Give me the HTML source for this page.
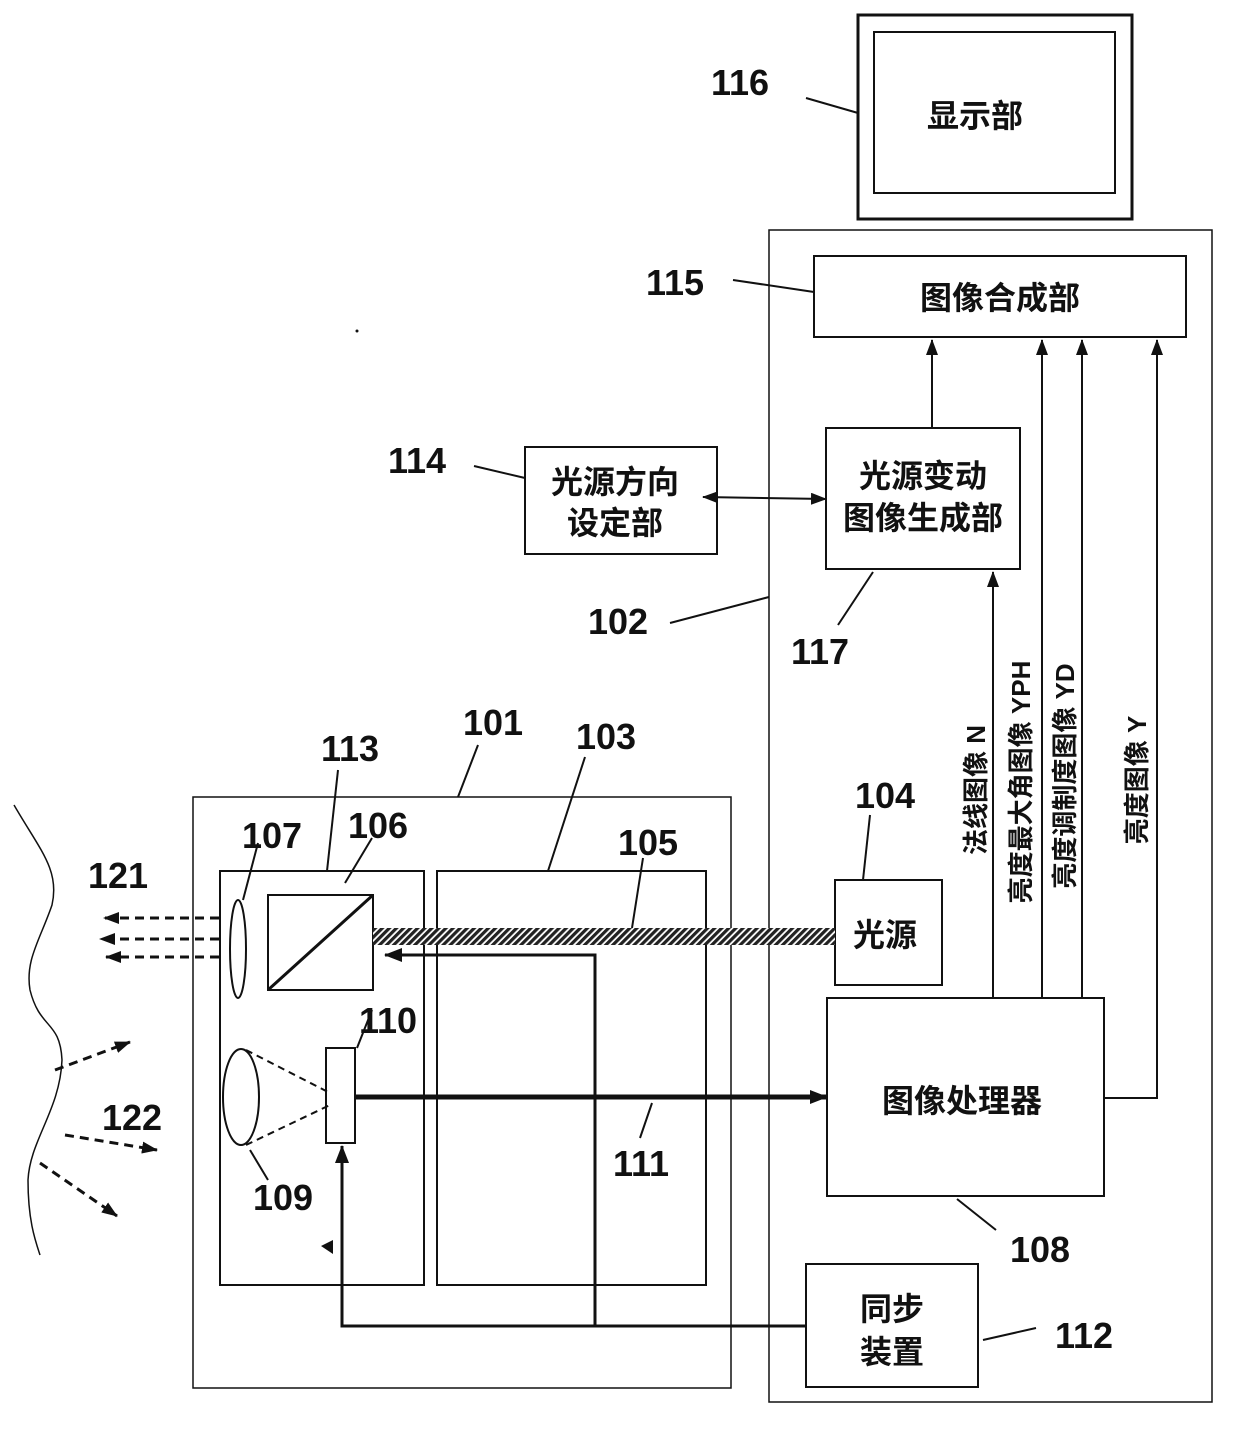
<!DOCTYPE html>
<html><head><meta charset="utf-8"><style>
html,body{margin:0;padding:0;background:#fff}
svg{display:block}
.n{font-family:"Liberation Sans",sans-serif;font-weight:bold;font-size:36px;fill:#111}
.c{font-family:"Liberation Sans","Noto Sans CJK SC",sans-serif;font-weight:bold;font-size:32px;fill:#111}
.v{font-family:"Liberation Sans","Noto Sans CJK SC",sans-serif;font-weight:bold;font-size:26px;fill:#111}
</style></head><body>
<svg width="1240" height="1431" viewBox="0 0 1240 1431" xmlns="http://www.w3.org/2000/svg">
<defs>
<marker id="b" markerWidth="18" markerHeight="14" refX="17" refY="7" orient="auto" markerUnits="userSpaceOnUse"><path d="M0,0 L18,7 L0,14 z" fill="#111"/></marker>
<marker id="s" markerWidth="16" markerHeight="12" refX="15" refY="6" orient="auto" markerUnits="userSpaceOnUse"><path d="M0,0 L16,6 L0,12 z" fill="#111"/></marker>
<marker id="d" markerWidth="16" markerHeight="12" refX="15" refY="6" orient="auto-start-reverse" markerUnits="userSpaceOnUse"><path d="M0,0 L16,6 L0,12 z" fill="#111"/></marker>
<pattern id="h" width="5" height="5" patternUnits="userSpaceOnUse" patternTransform="rotate(45)"><rect width="5" height="5" fill="#fff"/><rect width="3.2" height="5" fill="#222"/></pattern>
</defs>
<g fill="none" stroke="#111" stroke-width="2">
<rect x="858" y="15" width="274" height="204" stroke-width="3"/>
<rect x="874" y="32" width="241" height="161"/>
<line x1="806" y1="98" x2="858" y2="113"/>
<rect x="769" y="230" width="443" height="1172" stroke-width="1.5"/>
<line x1="670" y1="623" x2="769" y2="597"/>
<rect x="814" y="256" width="372" height="81"/>
<line x1="733" y1="280" x2="814" y2="292"/>
<rect x="826" y="428" width="194" height="141"/>
<line x1="873" y1="572" x2="838" y2="625"/>
<line x1="932" y1="428" x2="932" y2="340" marker-end="url(#s)"/>
<rect x="525" y="447" width="192" height="107"/>
<line x1="474" y1="466" x2="525" y2="478"/>
<line x1="703" y1="497" x2="826" y2="499" marker-start="url(#d)" marker-end="url(#d)"/>
<rect x="827" y="998" width="277" height="198"/>
<line x1="957" y1="1199" x2="996" y2="1230"/>
<line x1="993" y1="998" x2="993" y2="572" marker-end="url(#s)"/>
<line x1="1042" y1="998" x2="1042" y2="340" marker-end="url(#s)"/>
<line x1="1082" y1="998" x2="1082" y2="340" marker-end="url(#s)"/>
<polyline points="1104,1098 1157,1098 1157,340" marker-end="url(#s)"/>
<rect x="835" y="880" width="107" height="105"/>
<line x1="870" y1="815" x2="863" y2="880"/>
<rect x="193" y="797" width="538" height="591" stroke-width="1.5"/>
<line x1="478" y1="745" x2="458" y2="797"/>
<rect x="220" y="871" width="204" height="414"/>
<line x1="338" y1="770" x2="327" y2="871"/>
<rect x="437" y="871" width="269" height="414"/>
<line x1="585" y1="757" x2="548" y2="871"/>
<rect x="268" y="895" width="105" height="95"/>
<line x1="268" y1="990" x2="373" y2="895" stroke-width="3"/>
<line x1="372" y1="838" x2="345" y2="883"/>
<ellipse cx="238" cy="949" rx="8" ry="49"/>
<line x1="258" y1="843" x2="243" y2="900"/>
<rect x="373" y="928" width="462" height="17" fill="url(#h)" stroke="none"/>
<line x1="643" y1="858" x2="632" y2="928"/>
<polyline points="806,1326 342,1326 342,1146" stroke-width="3" marker-end="url(#b)"/>
<polyline points="595,1326 595,955 385,955" stroke-width="3" marker-end="url(#b)"/>
<rect x="326" y="1048" width="29" height="95"/>
<line x1="372" y1="1010" x2="357" y2="1048"/>
<ellipse cx="241" cy="1097" rx="18" ry="48"/>
<line x1="246" y1="1050" x2="330" y2="1093" stroke-dasharray="7,5"/>
<line x1="246" y1="1145" x2="330" y2="1105" stroke-dasharray="7,5"/>
<line x1="250" y1="1150" x2="268" y2="1180"/>
<line x1="355" y1="1097" x2="827" y2="1097" stroke-width="5" marker-end="url(#b)"/>
<line x1="652" y1="1103" x2="640" y2="1138"/>
<rect x="806" y="1264" width="172" height="123"/>
<line x1="983" y1="1340" x2="1036" y2="1328"/>
<line x1="219" y1="918" x2="104" y2="918" stroke-width="3" stroke-dasharray="9,6" marker-end="url(#s)"/>
<line x1="219" y1="939" x2="100" y2="939" stroke-width="3" stroke-dasharray="9,6" marker-end="url(#s)"/>
<line x1="219" y1="957" x2="106" y2="957" stroke-width="3" stroke-dasharray="9,6" marker-end="url(#s)"/>
<line x1="55" y1="1070" x2="130" y2="1042" stroke-width="3" stroke-dasharray="9,6" marker-end="url(#s)"/>
<line x1="65" y1="1135" x2="157" y2="1150" stroke-width="3" stroke-dasharray="9,6" marker-end="url(#s)"/>
<line x1="40" y1="1163" x2="117" y2="1216" stroke-width="3" stroke-dasharray="9,6" marker-end="url(#s)"/>
<path d="M14,805 C40,850 60,870 52,905 C40,940 25,960 30,990 C40,1030 60,1020 62,1060 C60,1110 30,1140 28,1180 C28,1220 35,1240 40,1255" stroke-width="1.5"/>
</g>
<path d="M321,1246 L333,1240 L333,1254 z" fill="#111"/>
<circle cx="357" cy="331" r="1.5" fill="#111"/>
<text class="n" x="740" y="95" text-anchor="middle">116</text>
<text class="n" x="675" y="295" text-anchor="middle">115</text>
<text class="n" x="417" y="473" text-anchor="middle">114</text>
<text class="n" x="820" y="664" text-anchor="middle">117</text>
<text class="n" x="618" y="634" text-anchor="middle">102</text>
<text class="n" x="493" y="735" text-anchor="middle">101</text>
<text class="n" x="606" y="749" text-anchor="middle">103</text>
<text class="n" x="350" y="761" text-anchor="middle">113</text>
<text class="n" x="885" y="808" text-anchor="middle">104</text>
<text class="n" x="272" y="848" text-anchor="middle">107</text>
<text class="n" x="378" y="838" text-anchor="middle">106</text>
<text class="n" x="648" y="855" text-anchor="middle">105</text>
<text class="n" x="118" y="888" text-anchor="middle">121</text>
<text class="n" x="388" y="1033" text-anchor="middle">110</text>
<text class="n" x="132" y="1130" text-anchor="middle">122</text>
<text class="n" x="641" y="1176" text-anchor="middle">111</text>
<text class="n" x="283" y="1210" text-anchor="middle">109</text>
<text class="n" x="1040" y="1262" text-anchor="middle">108</text>
<text class="n" x="1084" y="1348" text-anchor="middle">112</text>
<text class="c" x="975" y="127" text-anchor="middle">显示部</text>
<text class="c" x="1000" y="309" text-anchor="middle">图像合成部</text>
<text class="c" x="923" y="487" text-anchor="middle">光源变动</text>
<text class="c" x="923" y="529" text-anchor="middle">图像生成部</text>
<text class="c" x="615" y="493" text-anchor="middle">光源方向</text>
<text class="c" x="615" y="534" text-anchor="middle">设定部</text>
<text class="c" x="885" y="946" text-anchor="middle">光源</text>
<text class="c" x="962" y="1112" text-anchor="middle">图像处理器</text>
<text class="c" x="892" y="1320" text-anchor="middle">同步</text>
<text class="c" x="892" y="1363" text-anchor="middle">装置</text>
<text class="v" transform="translate(985,790) rotate(-90)" text-anchor="middle">法线图像 N</text>
<text class="v" transform="translate(1030,782) rotate(-90)" text-anchor="middle">亮度最大角图像 YPH</text>
<text class="v" transform="translate(1074,776) rotate(-90)" text-anchor="middle">亮度调制度图像 YD</text>
<text class="v" transform="translate(1146,780) rotate(-90)" text-anchor="middle">亮度图像 Y</text>
</svg>
</body></html>
